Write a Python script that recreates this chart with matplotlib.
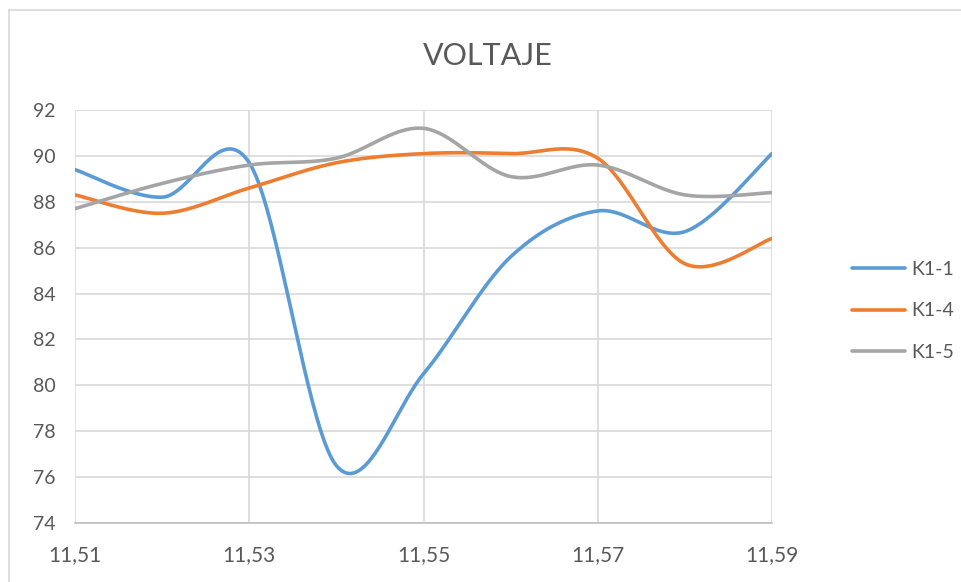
import numpy as np
import matplotlib
matplotlib.use("Agg")
import matplotlib.pyplot as plt
from matplotlib.lines import Line2D

# readings every 0.01 between 11.51 and 11.59
x_vals = [11.51, 11.52, 11.53, 11.54, 11.55, 11.56, 11.57, 11.58, 11.59]
k1_1 = [89.4, 88.2, 89.7, 76.5, 80.5, 85.6, 87.6, 86.7, 90.1]
k1_4 = [88.3, 87.5, 88.6, 89.7, 90.1, 90.1, 89.9, 85.3, 86.4]
k1_5 = [87.7, 88.8, 89.6, 89.9, 91.2, 89.1, 89.6, 88.3, 88.4]
series_names = ["K1-1", "K1-4", "K1-5"]
series_colors = ["#5B9BD5", "#ED7D31", "#A5A5A5"]

y_ticks = [74, 76, 78, 80, 82, 84, 86, 88, 90, 92]
x_ticks = [11.51, 11.53, 11.55, 11.57, 11.59]
x_labels = ["11,51", "11,53", "11,55", "11,57", "11,59"]

FONT = ["Lato", "DejaVu Sans"]
TEXT_COLOR = "#595959"
GRID_COLOR = "#D9D9D9"


def smooth(xs, ys, n=40):
    """Catmull-Rom spline through the points, like a spreadsheet smoothed line."""
    xs = np.asarray(xs, float)
    ys = np.asarray(ys, float)
    px = np.concatenate([[xs[0]], xs, [xs[-1]]])
    py = np.concatenate([[ys[0]], ys, [ys[-1]]])
    out_x, out_y = [], []
    for i in range(1, len(px) - 2):
        t = np.linspace(0, 1, n, endpoint=False)
        h00 = 2 * t**3 - 3 * t**2 + 1
        h10 = t**3 - 2 * t**2 + t
        h01 = -2 * t**3 + 3 * t**2
        h11 = t**3 - t**2
        for p, out in ((px, out_x), (py, out_y)):
            m0 = (p[i + 1] - p[i - 1]) / 2
            m1 = (p[i + 2] - p[i]) / 2
            out.append(h00 * p[i] + h10 * m0 + h01 * p[i + 1] + h11 * m1)
    out_x.append([xs[-1]])
    out_y.append([ys[-1]])
    return np.concatenate(out_x), np.concatenate(out_y)


W, H = 961, 582
fig = plt.figure(figsize=(W / 100, H / 100), dpi=100)
ax = fig.add_axes([75 / W, 1 - 523 / H, (772 - 75) / W, (523 - 110) / H])

for ys, name, color in zip([k1_1, k1_4, k1_5], series_names, series_colors):
    sx, sy = smooth(x_vals, ys)
    ax.plot(sx, sy, color=color, lw=2.6, label=name, solid_capstyle="round", zorder=3)

ax.set_xlim(11.51, 11.59)
ax.set_ylim(74, 92)
ax.set_xticks(x_ticks)
ax.set_xticklabels(x_labels)
ax.set_yticks(y_ticks)
ax.grid(True, color=GRID_COLOR, lw=1.2)
ax.set_axisbelow(True)
for side in ["top", "right", "left"]:
    ax.spines[side].set_visible(False)
ax.spines["bottom"].set_color("#BFBFBF")
ax.spines["bottom"].set_linewidth(1.2)
ax.tick_params(axis="both", length=0, labelsize=14, labelcolor=TEXT_COLOR)
ax.tick_params(axis="y", pad=14)
ax.tick_params(axis="x", labelsize=15, pad=16)
for lbl in ax.get_xticklabels() + ax.get_yticklabels():
    lbl.set_family(FONT)

fig.text(488 / W, 1 - 56 / H, "VOLTAJE", ha="center", va="center",
         fontsize=22, color=TEXT_COLOR, family=FONT)

leg = fig.legend(loc="center left", bbox_to_anchor=(852 / W, 1 - 311 / H),
                 frameon=False, prop={"family": FONT, "size": 14},
                 handlelength=2.7, handletextpad=0.35, labelspacing=1.25,
                 borderpad=0, borderaxespad=0)
for t in leg.get_texts():
    t.set_color(TEXT_COLOR)

# light chart border along the left and top edges
fig.add_artist(Line2D([9 / W, 9 / W], [0, 1 - 10 / H], color=GRID_COLOR, lw=1.2))
fig.add_artist(Line2D([9 / W, 1], [1 - 10 / H, 1 - 10 / H], color=GRID_COLOR, lw=1.2))

fig.savefig("out.png", dpi=100)
